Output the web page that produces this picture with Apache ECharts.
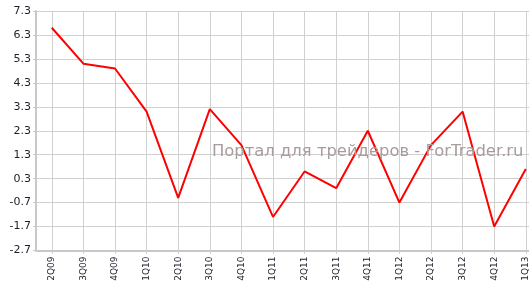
<!DOCTYPE html>
<html>
<head>
<meta charset="utf-8">
<script src="https://cdn.jsdelivr.net/npm/echarts@6/dist/echarts.min.js"></script>
<style>html,body{margin:0;padding:0;background:#fff;overflow:hidden;width:529px;height:286px}#c{width:546px;height:286px}</style>
</head>
<body>
<div id="c"></div>
<script>
var categories = ['2Q09','3Q09','4Q09','1Q10','2Q10','3Q10','4Q10','1Q11','2Q11','3Q11','4Q11','1Q12','2Q12','3Q12','4Q12','1Q13'];
var values = [6.6, 5.1, 4.9, 3.1, -0.5, 3.2, 1.7, -1.3, 0.6, -0.1, 2.3, -0.7, 1.7, 3.1, -1.7, 0.7];
var watermark = 'Портал для трейдеров - ForTrader.ru';

var chart = echarts.init(document.getElementById('c'), null, {renderer: 'canvas'});
chart.setOption({
  animation: false,
  backgroundColor: '#fff',
  grid: {left: 36, top: 11, width: 505.6, height: 239.5, containLabel: false},
  xAxis: {
    type: 'category',
    data: categories,
    boundaryGap: true,
    axisLine: {onZero: false, lineStyle: {color: '#c8c8c8', width: 2}},
    axisTick: {show: true, alignWithLabel: true, length: 3, lineStyle: {color: '#c8c8c8', width: 1}},
    splitLine: {show: true, alignWithLabel: true, lineStyle: {color: '#d0d0d0', width: 1}},
    axisLabel: {rotate: 90, interval: 0, fontFamily: 'DejaVu Sans', fontSize: 9, color: '#1e1e2a', margin: 6}
  },
  yAxis: {
    type: 'value',
    min: -2.7, max: 7.3, interval: 1,
    axisLine: {show: true, lineStyle: {color: '#c8c8c8', width: 2}},
    axisTick: {show: true, length: 3, lineStyle: {color: '#c8c8c8'}},
    splitLine: {show: true, lineStyle: {color: '#d0d0d0', width: 1}},
    axisLabel: {fontFamily: 'DejaVu Sans', fontSize: 11, color: '#1e1e2a', margin: 5,
      formatter: function (v) { return v.toFixed(1); }}
  },
  graphic: [{
    type: 'text', left: 212, top: 144, z: 10,
    style: {text: watermark, fontFamily: 'DejaVu Sans', fontSize: 16.4, fill: '#a89c9c'}
  }],
  series: [{
    type: 'line', data: values, symbol: 'none', smooth: false,
    lineStyle: {color: '#ff0000', width: 2}
  }]
});
</script>
</body>
</html>
